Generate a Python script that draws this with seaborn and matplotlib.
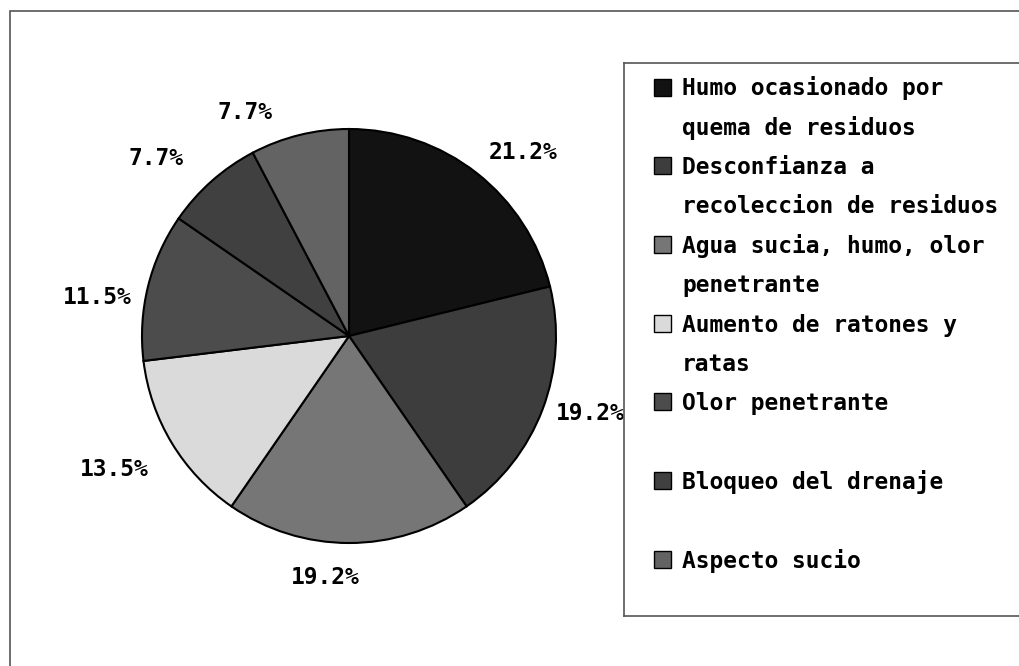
import matplotlib.pyplot as plt
import seaborn as sns
from matplotlib.patches import Rectangle

# ── data ──────────────────────────────────────────────────────────────────────
categories = [
    "Humo ocasionado por\nquema de residuos",
    "Desconfianza a\nrecoleccion de residuos",
    "Agua sucia, humo, olor\npenetrante",
    "Aumento de ratones y\nratas",
    "Olor penetrante",
    "Bloqueo del drenaje",
    "Aspecto sucio",
]
counts = [11, 10, 10, 7, 6, 4, 4]          # 52 answers -> 21.2%, 19.2%, ...
slice_colors = ["#121212", "#3d3d3d", "#767676", "#dadada",
                "#4c4c4c", "#404040", "#636363"]

# ── style ─────────────────────────────────────────────────────────────────────
sns.set_theme(style="white")
plt.rcParams["font.family"] = ["DejaVu Sans Mono", "DejaVu Sans"]
FS = 16.5

W, H = 1019, 666
fig = plt.figure(figsize=(W / 100, H / 100), dpi=100)

# outer frame (only left/top visible in the scan)
fig.add_artist(Rectangle((10 / W, -0.1), 1.2, (H - 11) / H + 0.1,
                         transform=fig.transFigure, fill=False,
                         edgecolor="#555555", linewidth=1.2))

# ── pie ───────────────────────────────────────────────────────────────────────
cx, cy, r = 349, 666 - 336, 207
ax = fig.add_axes([(cx - r) / W, (cy - r) / H, 2 * r / W, 2 * r / H])
wedges, texts, autotexts = ax.pie(
    counts, colors=slice_colors, startangle=90, counterclock=False,
    autopct=lambda p: f"{p:.1f}%", pctdistance=1.23,
    wedgeprops=dict(edgecolor="black", linewidth=1.5),
    textprops=dict(fontsize=FS, fontweight="bold", color="black"))
ax.set_aspect("auto")
ax.set_xlim(-1, 1)
ax.set_ylim(-1, 1)
ax.axis("off")

# Excel-style label placement: small nudges (pixels) off the radial spot
nudges = [(17, -17), (3, 13), (-24, 13), (-17, -2), (-5, -22), (-24, -13), (-43, -24)]
for t, (dx, dy) in zip(autotexts, nudges):
    x, y = t.get_position()
    t.set_position((x + dx / r, y + dy / r))

# ── legend box (drawn on top, runs off the right edge) ───────────────────────
lw_px, lh_px = 500, 553
lax = fig.add_axes([624 / W, (H - 616) / H, lw_px / W, lh_px / H], zorder=3)
lax.set_xlim(0, lw_px)
lax.set_ylim(lh_px, 0)
lax.set_facecolor("white")
lax.set_xticks([])
lax.set_yticks([])
for s in lax.spines.values():
    s.set_color("#555555")
    s.set_linewidth(1.2)

for i, (label, col) in enumerate(zip(categories, slice_colors)):
    yc = 24 + 78.7 * i
    lax.add_patch(Rectangle((30, yc - 8.5), 17, 17, facecolor=col,
                            edgecolor="black", linewidth=1))
    for j, line in enumerate(label.split("\n")):
        lax.text(58, yc + 8.5 + 39 * j, line, va="baseline", ha="left",
                 fontsize=FS, fontweight="bold", color="black")

plt.savefig("out.png", dpi=100)
